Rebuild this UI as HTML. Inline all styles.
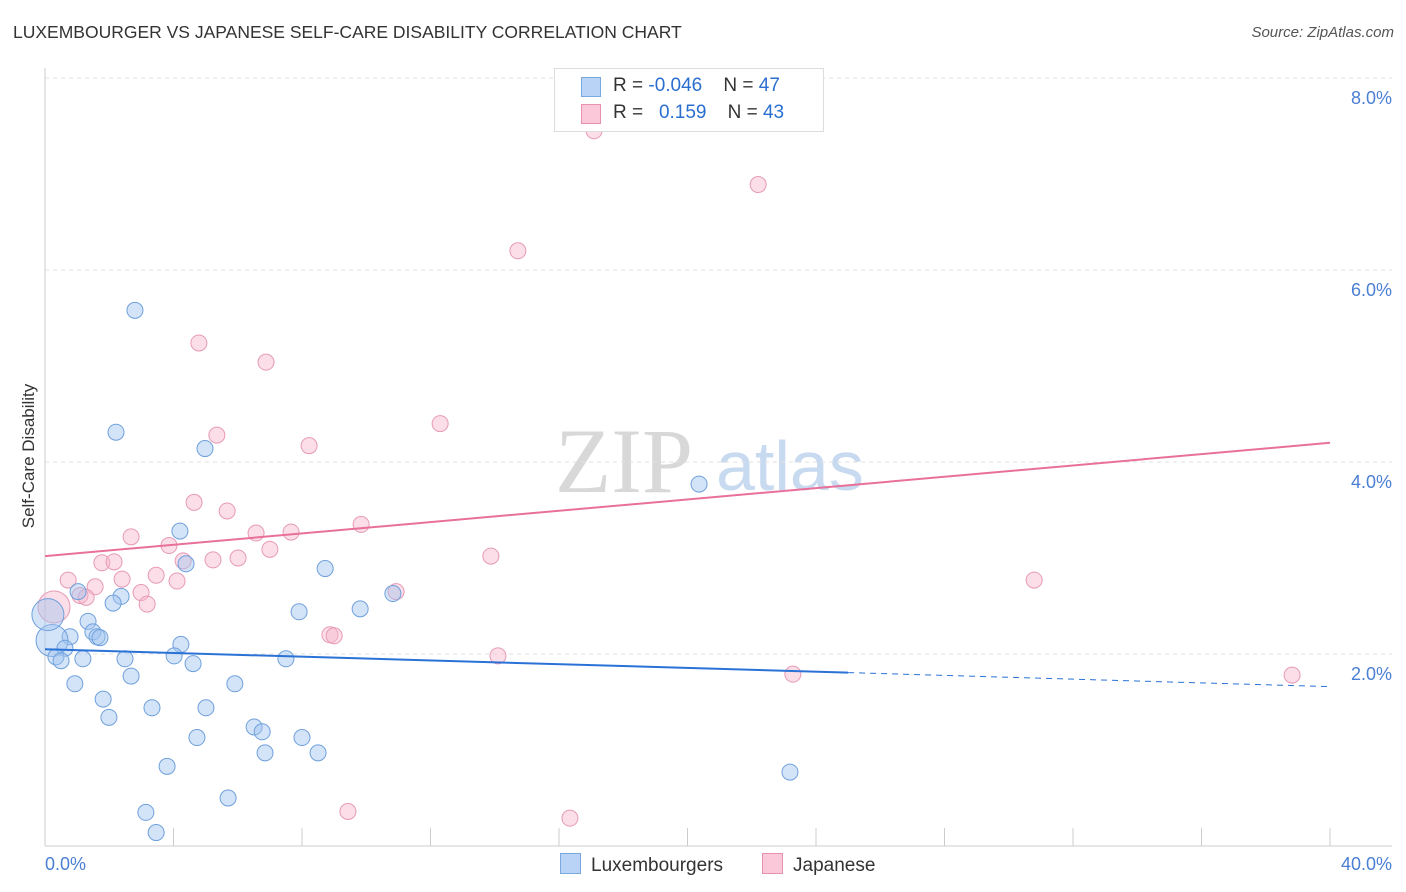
<!DOCTYPE html>
<html><head><meta charset="utf-8"><style>
body{margin:0;background:#fff;font-family:"Liberation Sans",sans-serif;}
#wrap{position:relative;width:1406px;height:892px;overflow:hidden;}
.t{position:absolute;white-space:nowrap;}
</style></head><body>
<div id="wrap">
<div class="t" style="left:13px;top:22px;font-size:17.5px;color:#333;">LUXEMBOURGER VS JAPANESE SELF-CARE DISABILITY CORRELATION CHART</div>
<div class="t" style="right:12px;top:24px;font-size:15px;color:#555;font-style:italic;">Source: ZipAtlas.com</div>
<svg id="svg" width="1406" height="892" style="position:absolute;left:0;top:0"></svg>
</div>
<script>
const blueX=[2.80,2.21,4.98,20.36,4.20,4.39,8.72,1.03,2.37,2.12,10.83,7.91,9.81,1.34,1.49,1.62,0.78,1.71,0.22,4.23,0.62,0.34,0.50,1.18,2.49,4.02,4.61,7.50,2.68,5.91,0.93,1.81,3.33,5.01,1.99,6.51,6.76,4.73,8.00,6.85,8.50,3.80,23.19,5.70,3.14,3.46,0.09];
const blueY=[5.58,4.31,4.14,3.77,3.28,2.94,2.89,2.65,2.60,2.53,2.63,2.44,2.47,2.34,2.23,2.18,2.18,2.17,2.14,2.10,2.06,1.97,1.93,1.95,1.95,1.98,1.90,1.95,1.77,1.69,1.69,1.53,1.44,1.44,1.34,1.24,1.19,1.13,1.13,0.97,0.97,0.83,0.77,0.50,0.35,0.14,2.41];
const pinkX=[17.09,22.20,14.72,4.79,6.88,5.35,12.30,8.22,4.64,5.67,6.57,7.66,9.84,2.68,3.86,6.01,7.00,5.23,4.30,13.88,1.77,2.15,3.46,0.72,2.40,4.11,1.56,1.09,2.99,1.28,10.93,3.18,0.28,8.87,9.00,14.10,23.28,30.79,38.82,9.43,16.34];
const pinkY=[7.45,6.89,6.20,5.24,5.04,4.28,4.40,4.17,3.58,3.49,3.26,3.27,3.35,3.22,3.13,3.00,3.09,2.98,2.97,3.02,2.95,2.96,2.82,2.77,2.78,2.76,2.70,2.61,2.64,2.59,2.65,2.52,2.49,2.20,2.19,1.98,1.79,2.77,1.78,0.36,0.29];
const yTicks=[2,4,6,8];
const blueTrend=[2.05,1.66]; // at x=0 and x=40
const pinkTrend=[3.02,4.20];
const NS="http://www.w3.org/2000/svg";
const svg=document.getElementById('svg');
const X=v=>45+v/40*1285, Y=v=>846-v*96;
function mk(t,a){const e=document.createElementNS(NS,t);for(const k in a)e.setAttribute(k,a[k]);svg.appendChild(e);return e;}
// watermark
let w=mk('text',{x:555,y:492,'font-size':92,'font-family':'Liberation Serif',fill:'#d8d8d8'});w.textContent='ZIP';

let w2=mk('text',{x:716,y:490,'font-size':70,'font-family':'Liberation Sans',fill:'#c8daf0'});w2.textContent='atlas';

yTicks.forEach(v=>{
 let l=mk('line',{x1:45,x2:1392,y1:Y(v),y2:Y(v),stroke:'#e2e2e2','stroke-dasharray':'4,4'});
 
 let t=mk('text',{x:1392,y:Y(v)+26,'text-anchor':'end','font-size':18,fill:'#4a7fd4'});t.textContent=v.toFixed(1)+'%';
 
});
let ax=mk('line',{x1:45,x2:45,y1:68,y2:846,stroke:'#ccc'});
let bx=mk('line',{x1:45,x2:1392,y1:846,y2:846,stroke:'#ccc'});
for(let i=0;i<=10;i++){let tk=mk('line',{x1:X(i*4),x2:X(i*4),y1:828,y2:846,stroke:'#ccc'});}
let xl=mk('text',{x:45,y:870,'font-size':18,fill:'#4a7fd4'});xl.textContent='0.0%';
let xr=mk('text',{x:1392,y:870,'text-anchor':'end','font-size':18,fill:'#4a7fd4'});xr.textContent='40.0%';
let yt=mk('text',{x:34,y:456,'text-anchor':'middle','font-size':17,fill:'#333',transform:'rotate(-90 34 456)'});yt.textContent='Self-Care Disability';

function pts(xs,ys,fill,stroke,name){xs.forEach((x,i)=>{const big=(x<0.3);const c=mk('circle',{cx:X(x),cy:Y(ys[i]),r:big?16:8,fill:fill,stroke:stroke,'stroke-width':1});
 });}
pts(pinkX,pinkY,'rgba(246,182,204,0.45)','#e79ab6','japanese-point');
pts(blueX,blueY,'rgba(160,196,240,0.45)','#6fa0dc','luxembourger-point');
const bSplit=25;
const bAt=x=>blueTrend[0]+(blueTrend[1]-blueTrend[0])*x/40;
let bl=mk('line',{x1:X(0),y1:Y(bAt(0)),x2:X(bSplit),y2:Y(bAt(bSplit)),stroke:'#2a72d6','stroke-width':2});

let bd=mk('line',{x1:X(bSplit),y1:Y(bAt(bSplit)),x2:X(40),y2:Y(bAt(40)),stroke:'#2a72d6','stroke-width':1,'stroke-dasharray':'6,5'});

let pl=mk('line',{x1:X(0),y1:Y(pinkTrend[0]),x2:X(40),y2:Y(pinkTrend[1]),stroke:'#e8709a','stroke-width':2});

</script>
<div class="t" style="left:554px;top:68px;width:268px;height:62px;border:1px solid #ddd;background:#fff;font-size:19px;">
 <div style="position:absolute;left:26px;top:8px;width:18px;height:18px;background:#b8d3f5;border:1px solid #7aa9e0"></div>
 <div class="t" style="left:58px;top:6px;color:#333">R = <span style="color:#2a6fd0">-0.046</span>&nbsp;&nbsp;&nbsp; N = <span style="color:#2a6fd0">47</span></div>
 <div style="position:absolute;left:26px;top:35px;width:18px;height:18px;background:#fac8d8;border:1px solid #e890b0"></div>
 <div class="t" style="left:58px;top:33px;color:#333">R = &nbsp;&nbsp;<span style="color:#2a6fd0">0.159</span>&nbsp;&nbsp;&nbsp; N = <span style="color:#2a6fd0">43</span></div>
</div>
<div class="t" style="left:560px;top:853px;font-size:19px;color:#333;"><span style="display:inline-block;width:19px;height:19px;background:#b8d3f5;border:1px solid #7aa9e0;vertical-align:-3px;margin-right:10px"></span>Luxembourgers</div>
<div class="t" style="left:762px;top:853px;font-size:19px;color:#333;"><span style="display:inline-block;width:19px;height:19px;background:#fac8d8;border:1px solid #e890b0;vertical-align:-3px;margin-right:10px"></span>Japanese</div>
</body></html>
